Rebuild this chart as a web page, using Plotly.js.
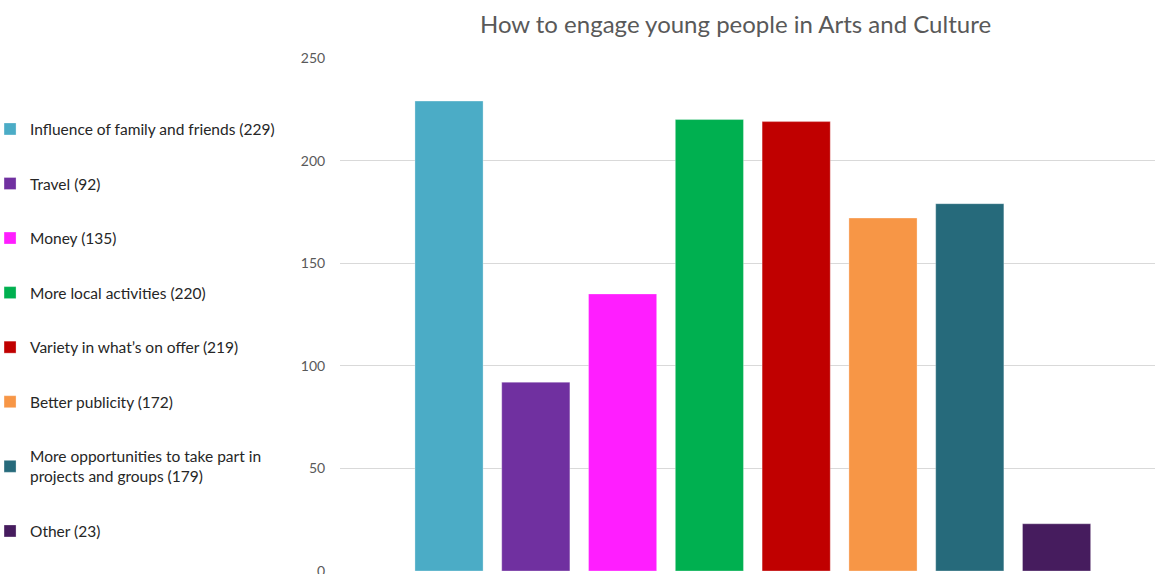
<!DOCTYPE html>
<html>
<head>
<meta charset="utf-8">
<script src="https://cdn.plot.ly/plotly-3.0.1.min.js"></script>
<style>html,body{margin:0;padding:0;background:#fff;}#chart{width:1155px;height:574px;}</style>
</head>
<body>
<div id="chart"></div>
<script>
const categories = [
  "Influence of family and friends (229)",
  "Travel (92)",
  "Money (135)",
  "More local activities (220)",
  "Variety in what\u2019s on offer (219)",
  "Better publicity (172)",
  "More opportunities to take part in<br>projects and groups (179)",
  "Other (23)"
];
const values = [229, 92, 135, 220, 219, 172, 179, 23];
const colors = ["#4BACC6", "#7030A0", "#FF1EFF", "#00B050", "#C00000", "#F79646", "#266A7B", "#461C5E"];
const yTicks = [0, 50, 100, 150, 200, 250];

const traces = categories.map((name, i) => ({
  type: "bar",
  name: name,
  x: [i],
  y: [values[i]],
  width: 0.785,
  marker: {color: colors[i], line: {color: "rgba(255,255,255,0.5)", width: 0.6}},
  legendgroup: "g" + i,
  hoverinfo: "name+y"
}));

const layout = {
  width: 1155,
  height: 574,
  margin: {l: 340, r: 0, t: 58, b: 3, autoexpand: false},
  paper_bgcolor: "#ffffff",
  plot_bgcolor: "#ffffff",
  barmode: "overlay",
  font: {family: "Lato, 'Open Sans', sans-serif", color: "#595959"},
  title: {
    text: "How to engage young people in Arts and Culture",
    font: {size: 24, color: "#595959", family: "Lato, 'Open Sans', sans-serif"},
    x: 0.6368, xanchor: "center", xref: "container",
    y: 0.958, yanchor: "middle", yref: "container"
  },
  xaxis: {
    range: [-1.256, 8.134],
    showticklabels: false,
    showgrid: false,
    zeroline: false,
    showline: false,
    ticks: ""
  },
  yaxis: {
    range: [0, 250],
    tickvals: yTicks,
    ticktext: yTicks.map(String),
    tickfont: {size: 14, color: "#595959"},
    ticklabeloverflow: "allow",
    gridcolor: "#d9d9d9",
    gridwidth: 1,
    zeroline: false,
    showline: false,
    ticks: "outside",
    ticklen: 11,
    tickcolor: "rgba(0,0,0,0)"
  },
  showlegend: true,
  legend: {
    x: -0.4294, xanchor: "left",
    y: 0.894, yanchor: "top",
    font: {size: 15.5, color: "#262626", family: "Lato, 'Open Sans', sans-serif"},
    tracegroupgap: 31.4,
    itemwidth: 30,
    bgcolor: "rgba(0,0,0,0)",
    traceorder: "grouped"
  }
};

Plotly.newPlot("chart", traces, layout, {displayModeBar: false, staticPlot: true});
</script>
</body>
</html>
